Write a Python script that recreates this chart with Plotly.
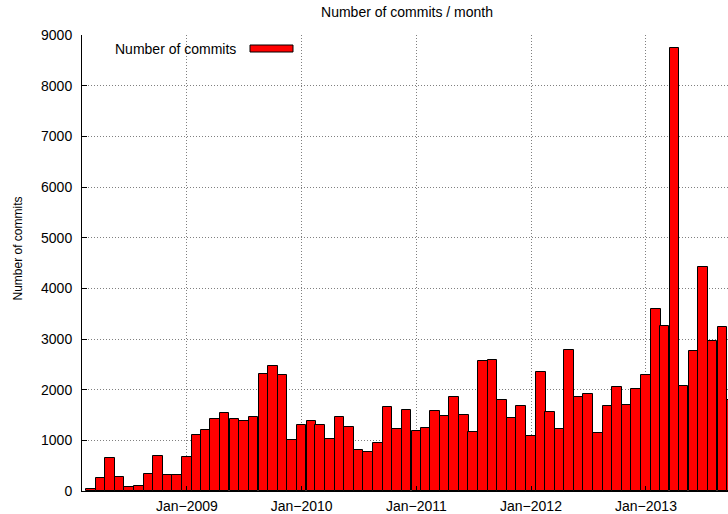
import pandas as pd
import plotly.graph_objects as go

# monthly commit counts, Mar 2008 .. Oct 2013
months = pd.date_range("2008-03-01", "2013-10-01", freq="MS")
commits = [
    40, 265, 660, 285, 86, 106, 345, 700, 325, 325,                    # 2008 Mar-Dec
    680, 1100, 1210, 1415, 1535, 1416, 1390, 1470, 2316, 2460, 2296, 1014,   # 2009
    1310, 1389, 1310, 1033, 1454, 1256, 803, 763, 940, 1665, 1222, 1593,     # 2010
    1184, 1250, 1580, 1474, 1855, 1493, 1158, 2565, 2578, 1790, 1447, 1670,  # 2011
    1092, 2350, 1555, 1220, 2785, 1849, 1914, 1145, 1671, 2050, 1704, 2015,  # 2012
    2292, 3592, 3250, 8752, 2066, 2757, 4421, 2954, 3230, 1796,              # 2013 Jan-Oct
]
tick_dates = ["2009-01-01", "2010-01-01", "2011-01-01", "2012-01-01", "2013-01-01"]
tick_labels = ["Jan\u22122009", "Jan\u22122010", "Jan\u22122011", "Jan\u22122012", "Jan\u22122013"]

font = "Liberation Sans, Arial, sans-serif"
W, H = 728, 514
L, T, B = 82, 35, 23
PW, PH = W - L, H - T - B

fig = go.Figure()
fig.add_trace(go.Bar(
    x=months,
    y=commits,
    width=30.4 * 86400000,
    marker=dict(color="#ff0000", line=dict(color="black", width=1)),
    name="Number of commits",
    showlegend=False,
))

grid = dict(showgrid=True, gridcolor="#808080", griddash="1px,2px", gridwidth=1,
            showline=True, linecolor="black", linewidth=1,
            ticks="inside", ticklen=5, tickcolor="black",
            zeroline=False, automargin=False)

fig.update_layout(
    width=W, height=H,
    margin=dict(l=L, r=0, t=T, b=B, autoexpand=False),
    paper_bgcolor="white", plot_bgcolor="white",
    font=dict(family=font, size=14, color="black"),
    bargap=0,
    title=dict(text="Number of commits / month", x=(407 - L) / PW, xref="paper", xanchor="center",
               y=1 - 12 / H, yref="container", yanchor="middle",
               font=dict(size=14)),
    xaxis=dict(type="date", range=["2008-02-02", "2013-09-19"],
               tickvals=tick_dates, ticktext=tick_labels, ticklabelstandoff=2, **grid),
    yaxis=dict(range=[0, 9000], dtick=1000, tick0=0, ticklabelstandoff=6, **grid),
)

# y axis title
fig.add_annotation(text="Number of commits", xref="paper", yref="paper",
                   x=(17.5 - L) / PW, y=(491 - 249) / PH, textangle=-90,
                   xanchor="center", yanchor="middle", showarrow=False,
                   font=dict(size=12))

# gnuplot-style key: text on the left, sample box on the right
fig.add_annotation(text="Number of commits", xref="paper", yref="paper",
                   x=(238 - L) / PW, y=(491 - 49) / PH, xanchor="right", yanchor="middle",
                   showarrow=False, font=dict(size=14))
fig.add_shape(type="rect", xref="paper", yref="paper",
              x0=(250 - L) / PW, x1=(293 - L) / PW,
              y0=(491 - 52) / PH, y1=(491 - 45) / PH,
              fillcolor="#ff0000", line=dict(color="black", width=1))

# drop the default page margin so the figure sits at the window's corner
fig.write_html("out.html", config={"displayModeBar": False},
               post_script="document.body.style.margin='0';")
